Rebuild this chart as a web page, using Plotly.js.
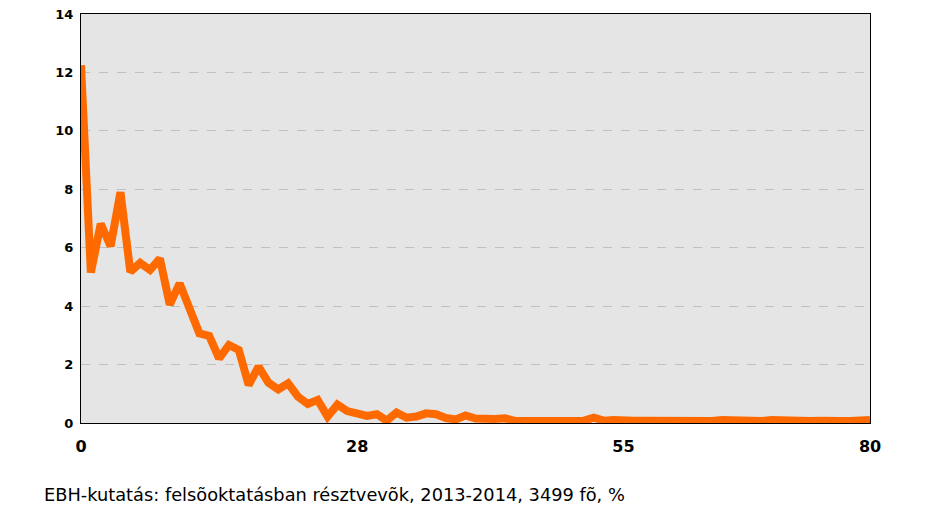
<!DOCTYPE html>
<html>
<head>
<meta charset="utf-8">
<script src="https://cdn.plot.ly/plotly-3.0.1.min.js"></script>
<style>
  html, body { margin: 0; padding: 0; background: #ffffff; }
  #chart { width: 933px; height: 516px; }
</style>
</head>
<body>
<div id="chart"></div>
<script>
const xValues = Array.from({length: 81}, (_, i) => i);
const shares = [
  12.25, 5.15, 6.82, 6.05, 7.9, 5.18, 5.48, 5.24, 5.63, 4.05,
  4.78, 4.0, 3.07, 2.98, 2.21, 2.67, 2.5, 1.3, 1.93, 1.38,
  1.15, 1.36, 0.9, 0.65, 0.79, 0.22, 0.63, 0.41, 0.35, 0.24,
  0.3, 0.08, 0.36, 0.18, 0.22, 0.33, 0.3, 0.17, 0.12, 0.26,
  0.15, 0.12, 0.14, 0.16, 0.07, 0.07, 0.07, 0.07, 0.08, 0.07,
  0.07, 0.08, 0.18, 0.08, 0.1, 0.07, 0.08, 0.08, 0.07, 0.07,
  0.07, 0.08, 0.08, 0.08, 0.07, 0.1, 0.08, 0.07, 0.07, 0.07,
  0.1, 0.08, 0.07, 0.07, 0.07, 0.08, 0.1, 0.07, 0.07, 0.07,
  0.1
];
const xTickVals = [0, 28, 55, 80];
const yTickVals = [0, 2, 4, 6, 8, 10, 12, 14];
const caption = "EBH-kutatás: felsõoktatásban résztvevõk, 2013-2014, 3499 fõ, %";

const trace = {
  x: xValues,
  y: shares,
  type: "scatter",
  mode: "lines",
  line: { color: "#ff6a00", width: 8, shape: "linear" },
  hoverinfo: "x+y"
};

const layout = {
  width: 933,
  height: 516,
  margin: { l: 81, r: 63, t: 14, b: 93 },
  paper_bgcolor: "#ffffff",
  plot_bgcolor: "#e5e5e5",
  showlegend: false,
  font: { family: "DejaVu Sans, Verdana, sans-serif", color: "#000000" },
  xaxis: {
    range: [0, 80],
    tickmode: "array",
    tickvals: xTickVals,
    ticktext: xTickVals.map(String),
    showgrid: false,
    zeroline: false,
    showline: true,
    linecolor: "#000000",
    linewidth: 1,
    mirror: true,
    ticks: "",
    ticklabelstandoff: 9,
    tickfont: { family: "DejaVu Sans, Verdana, sans-serif", size: 16, color: "#000000", weight: "bold" }
  },
  yaxis: {
    range: [0, 14],
    tickmode: "array",
    tickvals: yTickVals,
    ticktext: yTickVals.map(String),
    showgrid: true,
    gridcolor: "#c0c0c0",
    griddash: "dash",
    gridwidth: 1,
    zeroline: false,
    showline: true,
    linecolor: "#000000",
    linewidth: 1,
    mirror: true,
    ticks: "outside",
    ticklen: 4,
    tickcolor: "rgba(0,0,0,0)",
    tickfont: { family: "DejaVu Sans, Verdana, sans-serif", size: 13, color: "#000000", weight: "bold" }
  },
  annotations: [{
    text: caption,
    xref: "paper",
    yref: "paper",
    x: -0.049,
    y: -0.1748,
    xanchor: "left",
    yanchor: "middle",
    showarrow: false,
    font: { family: "DejaVu Sans, Verdana, sans-serif", size: 17.8, color: "#000000" }
  }]
};

Plotly.newPlot("chart", [trace], layout, { displayModeBar: false, staticPlot: true });
</script>
</body>
</html>
